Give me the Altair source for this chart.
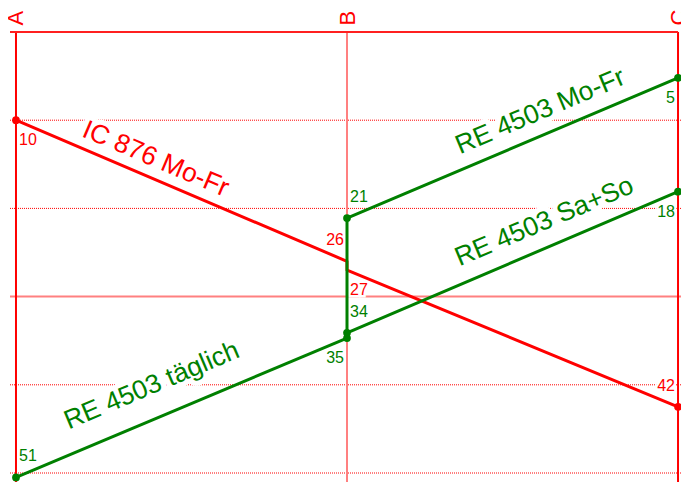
import altair as alt
import pandas as pd

# ---------------- data ----------------
stations = ["A", "B", "C"]
station_pos = [0, 1, 2]
station_line_color = ["#ff0000", "#ff8080", "#ff0000"]

# minute grid lines
dotted_minutes = [10, 20, 40, 50]
solid_minutes = [30]

# train paths
trip_names = ["IC 876 Mo-Fr", "RE 4503 Mo-Fr", "RE 4503 Sa+So", "RE 4503 täglich"]
trip_colors = ["#ff0000", "#008000", "#008000", "#008000"]
trip_stations = [["A", "B", "B", "C"], ["C", "B", "B"], ["C", "B", "B"], ["B", "A"]]
trip_minutes = [[10, 26, 27, 42.5], [5.2, 21.1, 34.7], [18.1, 34.1, 34.7], [34.7, 50.5]]

# stop events (time labels); dots only where a marker is shown
stop_station = ["A", "B", "B", "C", "C", "B", "C", "B", "B", "A"]
stop_minute = [10, 26, 27, 42.5, 5.2, 21.1, 18.1, 34.1, 34.7, 50.5]
stop_label = ["10", "26", "27", "42", "5", "21", "18", "34", "35", "51"]
stop_color = ["#ff0000"] * 4 + ["#008000"] * 6
stop_dot = [True, False, False, True, True, True, True, True, True, True]
stop_place = ["below-right", "above-left", "below-right", "above-left",
              "below-left", "above-right", "below-left", "above-right",
              "below-left", "above-right"]

# train name labels
name_pos = [0.422, 1.584, 1.596, 0.410]
name_minute = [14.4, 9.0, 21.5, 40.1]
name_angle = [23, 337, 337, 337]

# ---------------- tables ----------------
spos = dict(zip(stations, station_pos))
rows = []
for name, col, sts, mins in zip(trip_names, trip_colors, trip_stations, trip_minutes):
    for i, (s, m) in enumerate(zip(sts, mins)):
        rows.append({"trip": name, "seq": i, "pos": spos[s], "min": m, "col": col})
paths = pd.DataFrame(rows)

stops = pd.DataFrame({
    "pos": [spos[s] for s in stop_station],
    "min": stop_minute,
    "label": stop_label,
    "col": stop_color,
    "place": stop_place,
    "dot": stop_dot,
})

names = pd.DataFrame({
    "pos": name_pos, "min": name_minute, "text": trip_names,
    "col": trip_colors, "angle": name_angle,
})

st_df = pd.DataFrame({"pos": station_pos, "col": station_line_color})
dot_df = pd.DataFrame({"min": dotted_minutes})
sol_df = pd.DataFrame({"min": solid_minutes})

# ---------------- scales ----------------
VIEW_W, VIEW_H = 671, 450
xs = alt.Scale(domain=[-0.0181, 2.009], nice=False, zero=False)
ys = alt.Scale(domain=[0, VIEW_H / 8.82], reverse=True, nice=False, zero=False)
x_axis = alt.Axis(
    orient="top", values=station_pos, labelExpr=f"{stations}[datum.value]",
    labelAngle=270, labelAlign="left", labelBaseline="middle",
    labelColor="#ff0000", labelFontSize=22, labelFont="Liberation Sans",
    labelPadding=7, ticks=False, domain=False, grid=False, title=None,
    labelFlush=False, labelOverlap=False, labelBound=False,
)


def X(field="pos:Q"):
    return alt.X(field, scale=xs, axis=x_axis)


def Y(field="min:Q"):
    return alt.Y(field, scale=ys, axis=None)


FONT = "Liberation Sans"

dotted = alt.Chart(dot_df).mark_rule(color="#ff0000", strokeWidth=1, strokeDash=[1, 1]).encode(y=Y())
solid = alt.Chart(sol_df).mark_rule(color="#ff8080", strokeWidth=2).encode(y=Y())

place_cfg = {
    "below-right": dict(align="left", baseline="top", dx=3, dy=12),
    "below-left": dict(align="right", baseline="top", dx=-3, dy=12),
    "above-right": dict(align="left", baseline="alphabetic", dx=3, dy=-16),
    "above-left": dict(align="right", baseline="alphabetic", dx=-3, dy=-16),
}

halo_layers = []
text_layers = []
for p, cfg in place_cfg.items():
    base = alt.Chart(stops).transform_filter(alt.datum.place == p)
    halo_layers.append(
        base.mark_text(fontSize=16, font=FONT, stroke="white", strokeWidth=5, color="white", **cfg)
        .encode(x=X(), y=Y(), text="label:N")
    )
    text_layers.append(
        base.mark_text(fontSize=16, font=FONT, **cfg)
        .encode(x=X(), y=Y(), text="label:N", color=alt.Color("col:N", scale=None))
    )

name_halo = alt.Chart(names).mark_text(
    fontSize=26.5, font=FONT, align="center", baseline="middle",
    stroke="white", strokeWidth=10, color="white", strokeJoin="round"
).encode(x=X(), y=Y(), text="text:N", angle=alt.Angle("angle:Q", scale=None))

name_text = alt.Chart(names).mark_text(
    fontSize=26.5, font=FONT, align="center", baseline="middle"
).encode(x=X(), y=Y(), text="text:N", angle=alt.Angle("angle:Q", scale=None),
         color=alt.Color("col:N", scale=None))

station_lines = alt.Chart(st_df).mark_rule(strokeWidth=2).encode(
    x=X(), color=alt.Color("col:N", scale=None)
)

top_line = alt.Chart(pd.DataFrame({"min": [0], "pos": [station_pos[-1]]})).mark_rule(
    color="#ff2020", strokeWidth=2
).encode(y=Y(), x=X("pos:Q"), x2=alt.value(0))

lines = alt.Chart(paths).mark_line(strokeWidth=3, strokeJoin="round").encode(
    x=X(), y=Y(), detail="trip:N", order="seq:Q", color=alt.Color("col:N", scale=None)
)

dots = alt.Chart(stops).transform_filter(alt.datum.dot).mark_circle(size=60, opacity=1).encode(
    x=X(), y=Y(), color=alt.Color("col:N", scale=None)
)

chart = alt.layer(
    dotted, solid, *halo_layers, name_halo, station_lines, top_line,
    lines, dots, *text_layers, name_text
).properties(
    width=VIEW_W, height=VIEW_H,
    autosize=alt.AutoSizeParams(type="none"),
    padding={"left": 2, "top": 24, "right": 0, "bottom": 0},
    background="white",
).configure_view(stroke=None)

chart.save("out.html", embed_options={"renderer": "svg", "actions": False})
